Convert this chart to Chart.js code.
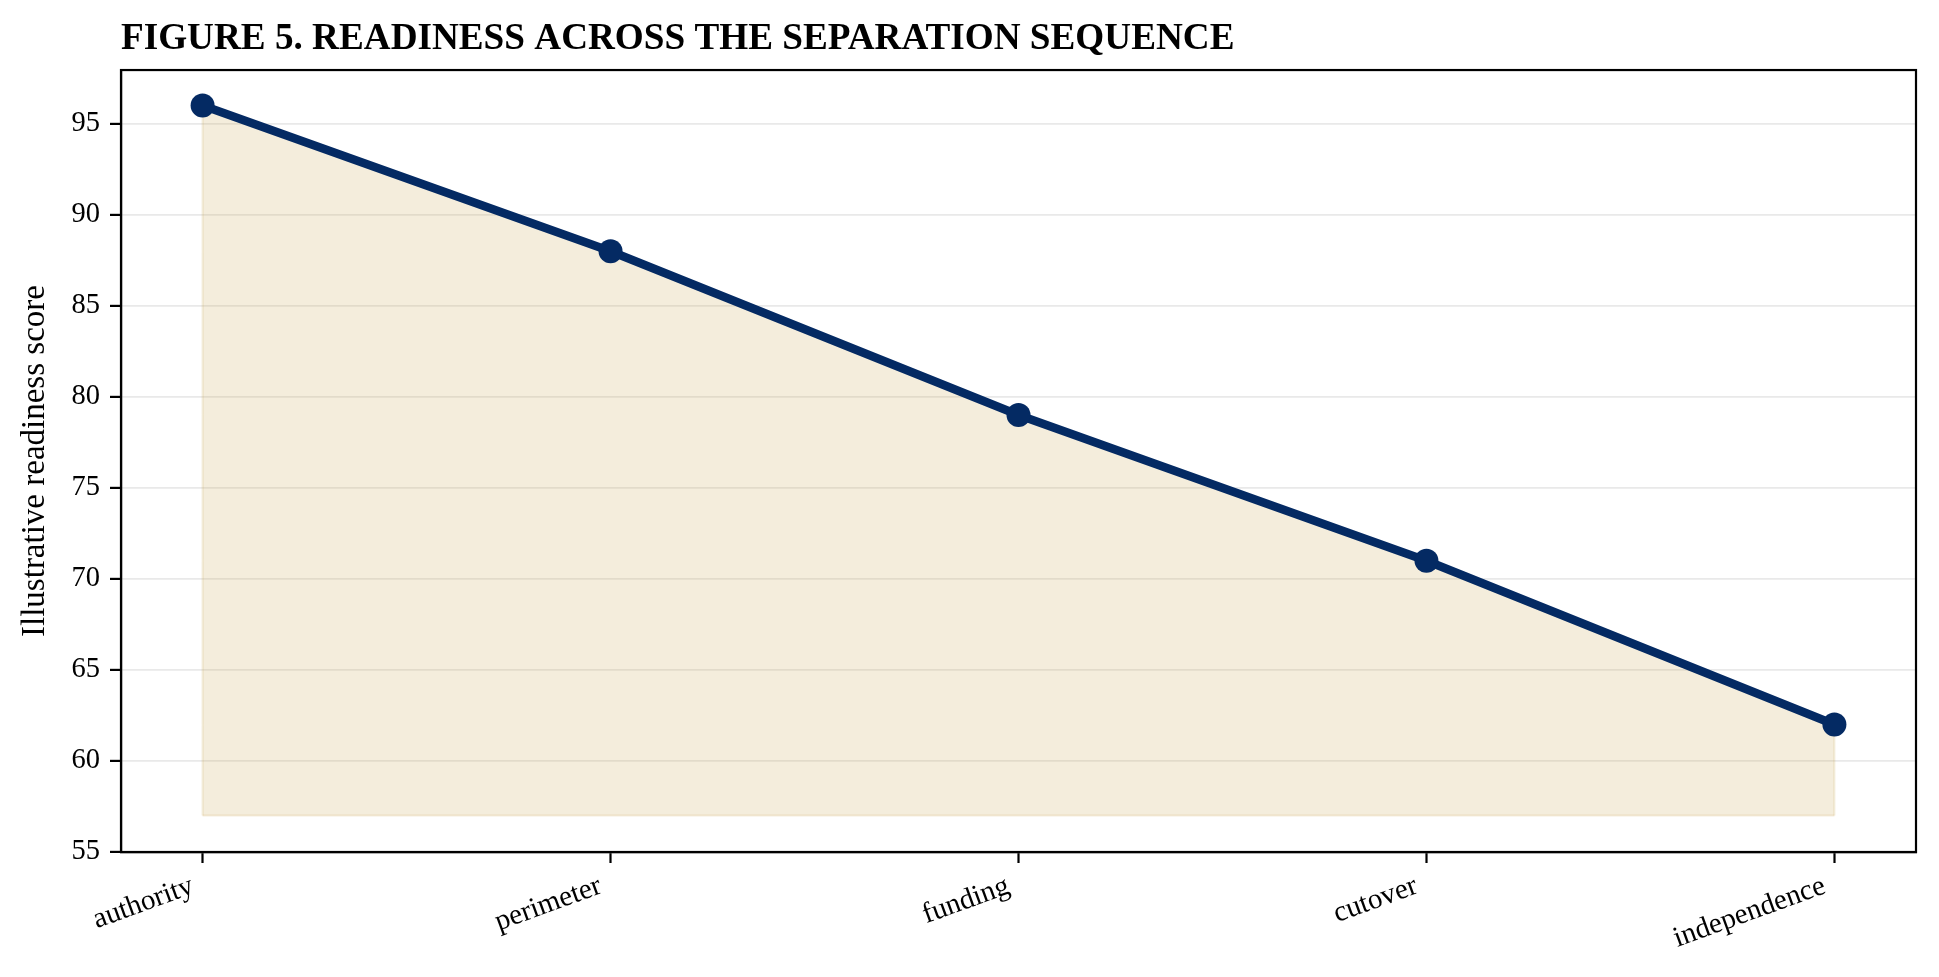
<!DOCTYPE html>
<html>
<head>
<meta charset="utf-8">
<script src="https://cdn.jsdelivr.net/npm/chart.js@4.4.1/dist/chart.umd.min.js"></script>
<style>
  html, body { margin: 0; padding: 0; background: #ffffff; }
  #wrap { position: relative; width: 1939px; height: 977px; }
</style>
</head>
<body>
<div id="wrap"><canvas id="c"></canvas></div>
<script>
// ---- data ----
const categories = ['authority', 'perimeter', 'funding', 'cutover', 'independence'];
const readiness = [96, 88, 79, 71, 62];
const fillBase = 57;
const yMin = 55;
const yMax = 97.95;
const yStep = 5;
const xMin = -0.2;
const xMax = 4.2;
const titleText = 'FIGURE 5. READINESS ACROSS THE SEPARATION SEQUENCE';
const yTitle = 'Illustrative readiness score';

// ---- styles ----
const NAVY = '#042a63';
const FILL = 'rgba(200,165,80,0.20)';
const SERIF = "'Liberation Serif', 'Times New Roman', Times, serif";

const linePoints = readiness.map((v, i) => ({ x: i, y: v }));
const polyPoints = [{ x: 0, y: fillBase }].concat(linePoints, [{ x: categories.length - 1, y: fillBase }]);
const basePoints = [{ x: 0, y: fillBase }, { x: categories.length - 1, y: fillBase }];

const framePlugin = {
  id: 'frame',
  afterLayout(chart) {
    if (chart.titleBlock) {
      chart.titleBlock.left = chart.chartArea.left;
    }
  },
  afterDraw(chart) {
    const { ctx, chartArea: a } = chart;
    ctx.save();
    ctx.strokeStyle = '#000';
    ctx.lineWidth = 2.2;
    ctx.strokeRect(a.left, a.top, a.right - a.left, a.bottom - a.top);
    ctx.restore();
  }
};

new Chart(document.getElementById('c'), {
  type: 'line',
  data: {
    datasets: [
      {
        label: 'Readiness',
        data: linePoints,
        borderColor: NAVY,
        borderWidth: 8.5,
        pointRadius: 12,
        pointBackgroundColor: NAVY,
        pointBorderWidth: 0,
        fill: false,
        tension: 0
      },
      {
        label: 'area',
        data: polyPoints,
        borderColor: FILL,
        borderWidth: 2,
        backgroundColor: FILL,
        pointRadius: 0,
        fill: { value: fillBase },
        tension: 0
      },
      {
        label: 'base',
        data: basePoints,
        borderColor: FILL,
        borderWidth: 2,
        pointRadius: 0,
        fill: false,
        tension: 0
      }
    ]
  },
  options: {
    responsive: true,
    maintainAspectRatio: false,
    animation: false,
    events: [],
    layout: { padding: { left: 0, right: 23, top: 0, bottom: 0 } },
    plugins: {
      legend: { display: false },
      tooltip: { enabled: false },
      title: {
        display: true,
        text: titleText,
        align: 'start',
        color: '#000',
        font: { family: SERIF, size: 37.2, weight: 'bold' },
        padding: { top: 17, bottom: 8.4 }
      }
    },
    scales: {
      x: {
        type: 'linear',
        min: xMin,
        max: xMax,
        afterFit(s) { s.height = 125; s.paddingLeft = 0; s.paddingRight = 0; },
        border: { display: true, color: '#000', width: 2.2 },
        grid: { drawOnChartArea: false, drawTicks: true, tickLength: 11, tickColor: '#000', tickWidth: 2.2 },
        ticks: {
          stepSize: 1,
          includeBounds: false,
          autoSkip: false,
          minRotation: 20,
          maxRotation: 20,
          labelOffset: -10,
          padding: 6,
          color: '#000',
          font: { family: SERIF, size: 29 },
          callback: (v) => (Number.isInteger(v) && categories[v] !== undefined) ? categories[v] : ''
        }
      },
      y: {
        type: 'linear',
        min: yMin,
        max: yMax,
        afterFit(s) { s.width = 121; s.paddingTop = 0; s.paddingBottom = 0; },
        border: { display: true, color: '#000', width: 2.2 },
        grid: { color: '#e9e9e9', lineWidth: 1.8, drawTicks: true, tickLength: 11, tickColor: '#000', tickWidth: 2.2 },
        ticks: {
          stepSize: yStep,
          includeBounds: false,
          padding: 10,
          color: '#000',
          font: { family: SERIF, size: 28.5 }
        },
        title: {
          display: true,
          text: yTitle,
          color: '#000',
          font: { family: SERIF, size: 33 },
          padding: { top: 16, bottom: 0 }
        }
      }
    }
  },
  plugins: [framePlugin]
});
</script>
</body>
</html>
